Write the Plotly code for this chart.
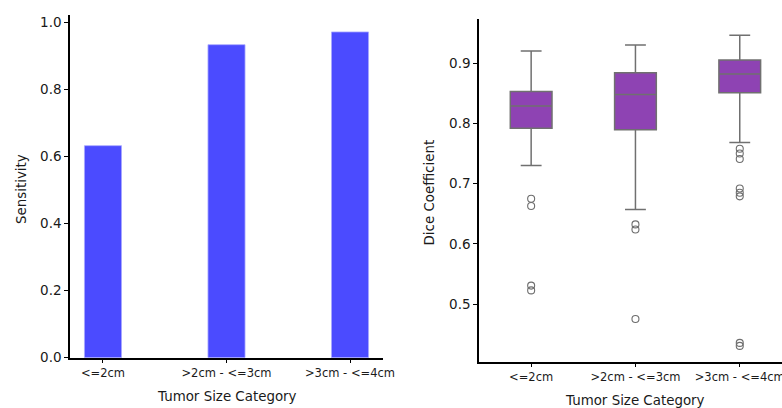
import plotly.graph_objects as go

# ---- data ----
categories = ["<=2cm", ">2cm - <=3cm", ">3cm - <=4cm"]
sensitivity = [0.632, 0.933, 0.971]

dice_q1 = [0.792, 0.7895, 0.851]
dice_median = [0.829, 0.848, 0.882]
dice_q3 = [0.853, 0.884, 0.905]
dice_lower = [0.730, 0.657, 0.7685]
dice_upper = [0.920, 0.930, 0.946]
dice_outliers = [
    [0.675, 0.663, 0.531, 0.523],
    [0.6325, 0.624, 0.4756],
    [0.758, 0.750, 0.741, 0.692, 0.685, 0.679, 0.436, 0.431],
]

sens_ticks = [0.0, 0.2, 0.4, 0.6, 0.8, 1.0]
dice_ticks = [0.5, 0.6, 0.7, 0.8, 0.9]

FONT = "DejaVu Sans"
W, H = 782, 408

fig = go.Figure()

fig.add_trace(go.Bar(
    x=categories, y=sensitivity, width=0.3,
    marker=dict(color="#4b4bff", line=dict(color="#a8a8ff", width=0.8)),
    xaxis="x", yaxis="y", showlegend=False,
))

fig.add_trace(go.Box(
    x=categories, q1=dice_q1, median=dice_median, q3=dice_q3,
    lowerfence=dice_lower, upperfence=dice_upper,
    width=0.4, whiskerwidth=0.5, boxpoints=False,
    fillcolor="#8e43b3", line=dict(color="#707070", width=1.5),
    xaxis="x2", yaxis="y2", showlegend=False,
))

ox, oy = [], []
for c, vals in zip(categories, dice_outliers):
    for v in vals:
        ox.append(c)
        oy.append(v)
fig.add_trace(go.Scatter(
    x=ox, y=oy, mode="markers",
    marker=dict(symbol="circle-open", size=7, color="#6e6e6e", line=dict(width=1.1)),
    xaxis="x2", yaxis="y2", showlegend=False,
))

axis_common = dict(
    showline=True, linecolor="black", linewidth=1.5,
    ticks="outside", ticklen=4, tickwidth=1.2, tickcolor="black",
    showgrid=False, zeroline=False, mirror=False, automargin=False,
)

fig.update_layout(
    width=W, height=H,
    margin=dict(l=0, r=0, t=0, b=0, autoexpand=False),
    paper_bgcolor="white", plot_bgcolor="white",
    font=dict(family=FONT, color="#1a1a1a"),
    xaxis=dict(domain=[70 / W, 383 / W], type="category", range=[-0.267, 2.267],
               tickfont=dict(size=11.5), anchor="y", **axis_common),
    yaxis=dict(domain=[1 - 357.7 / H, 1 - 15 / H], range=[0, 1.0215],
               tickvals=sens_ticks, ticktext=[f"{t:.1f}" for t in sens_ticks],
               tickfont=dict(size=13.5), anchor="x", **axis_common),
    xaxis2=dict(domain=[479 / W, 1.0], type="category", range=[-0.5, 2.405],
                tickfont=dict(size=11.5), anchor="y2", **axis_common),
    yaxis2=dict(domain=[1 - 361.7 / H, 1 - 19.3 / H], range=[0.4048, 0.9726],
                tickvals=dice_ticks, ticktext=[f"{t:.1f}" for t in dice_ticks],
                tickfont=dict(size=13.5), anchor="x2", **axis_common),
)

title_font = dict(family=FONT, size=13.4, color="#1a1a1a")
fig.add_annotation(text="Sensitivity", x=21.5 / W, y=1 - 189.5 / H, xref="paper", yref="paper",
                   textangle=-90, showarrow=False, font=title_font, xanchor="center", yanchor="middle")
fig.add_annotation(text="Tumor Size Category", x=226.5 / W, y=1 - 396 / H, xref="paper", yref="paper",
                   showarrow=False, font=title_font, xanchor="center", yanchor="middle")
fig.add_annotation(text="Dice Coefficient", x=429 / W, y=1 - 192.5 / H, xref="paper", yref="paper",
                   textangle=-90, showarrow=False, font=title_font, xanchor="center", yanchor="middle")
fig.add_annotation(text="Tumor Size Category", x=635 / W, y=1 - 400 / H, xref="paper", yref="paper",
                   showarrow=False, font=title_font, xanchor="center", yanchor="middle")

fig.write_html("out.html", config={"displayModeBar": False},
               post_script="document.body.style.margin='0';document.body.style.overflow='hidden';")
